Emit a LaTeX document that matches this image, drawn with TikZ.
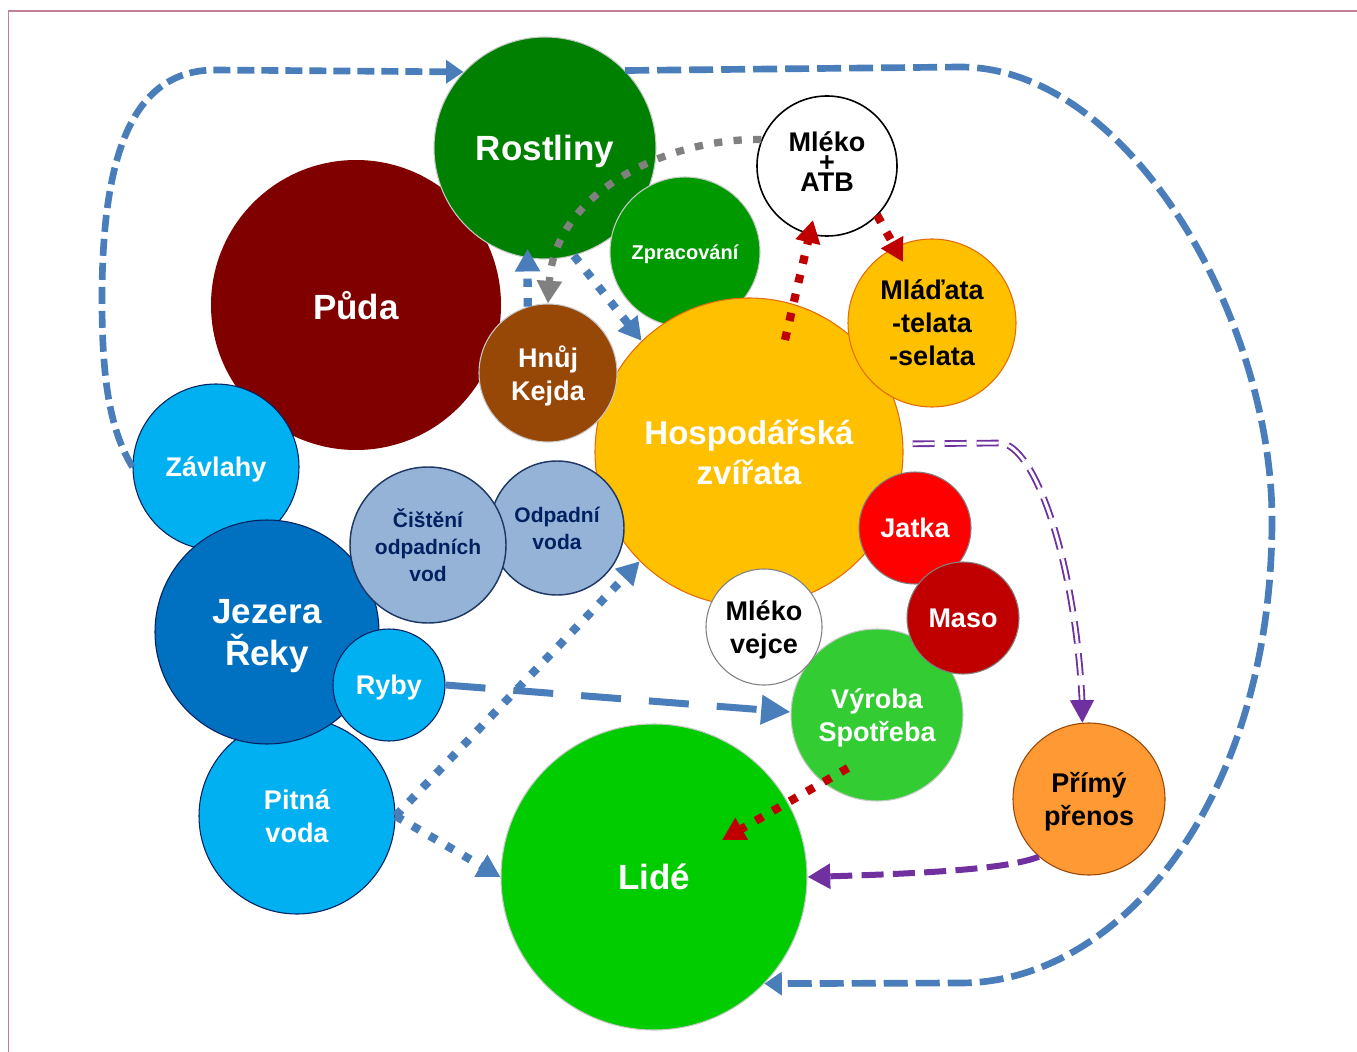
\documentclass[tikz,border=0pt]{standalone}
\usepackage{fontspec}
\setmainfont{Liberation Sans}
\usetikzlibrary{arrows.meta,calc}
\definecolor{frameC}{RGB}{192,128,150}
\definecolor{rostC}{HTML}{008000}
\definecolor{pudaC}{HTML}{800000}
\definecolor{zprC}{HTML}{009900}
\definecolor{hospC}{HTML}{FFC000}
\definecolor{hospL}{HTML}{E46C0A}
\definecolor{hnujC}{HTML}{974806}
\definecolor{zavC}{HTML}{00B0F0}
\definecolor{navyC}{HTML}{002060}
\definecolor{cistC}{HTML}{95B3D7}
\definecolor{cistL}{HTML}{1F3864}
\definecolor{jezC}{HTML}{0070C0}
\definecolor{jatC}{HTML}{FF0000}
\definecolor{masoC}{HTML}{C00000}
\definecolor{vyrC}{HTML}{33CC33}
\definecolor{lideC}{HTML}{00CC00}
\definecolor{primC}{HTML}{FF9933}
\definecolor{primL}{HTML}{984807}
\definecolor{blueA}{HTML}{4A7EBB}
\definecolor{redA}{HTML}{C00000}
\definecolor{grayA}{HTML}{808080}
\definecolor{purA}{HTML}{7030A0}
\definecolor{rimC}{HTML}{C8C8C8}
\begin{document}
\begin{tikzpicture}[x=0.75pt,y=-0.75pt,
  bub/.style={circle, inner sep=0pt, align=center, text=white, line width=0.8pt, text depth=0pt, font=\bfseries\fontsize{20.25}{24.75}\selectfont},
  rad/.style={minimum size=#1*1.5pt},
  fbig/.style={font=\bfseries\fontsize{26.25}{31.5}\selectfont},
  fhosp/.style={font=\bfseries\fontsize{24.75}{30}\selectfont},
  fsmall/.style={font=\bfseries\fontsize{15.75}{20}\selectfont},
  fzp/.style={font=\bfseries\fontsize{15}{18}\selectfont},
  fatb/.style={font=\bfseries\fontsize{20.25}{15}\selectfont},
  loopA/.style={draw=blueA, line width=5pt, dash pattern=on 12.75pt off 5.25pt},
  loopB/.style={draw=blueA, line width=5pt, dash pattern=on 18pt off 6pt},
  longdash/.style={draw=blueA, line width=5.25pt, dash pattern=on 30pt off 21pt},
  dotsq/.style={line width=6.2pt, dash pattern=on 6.2pt off 8.5pt},
  pdash/.style={draw=purA, line width=4.5pt, dash pattern=on 16.5pt off 7pt},
  tipS/.style={-{Triangle[length=13pt,width=17pt]}},
  tipM/.style={-{Triangle[length=17pt,width=18pt]}},
  tipL/.style={-{Triangle[length=22pt,width=21pt]}},
]
\useasboundingbox (0,0) rectangle (1357,1052);
\draw[frameC, line width=1.2pt] (1357,11) -- (8.5,11) -- (8.5,1052);

% circles
\node[bub, rad=145, fill=pudaC, fbig] (Puda) at (356,305) {Půda};
\node[bub, rad=83, fill=zavC, draw=navyC] (Zav) at (216,467) {Závlahy};
\node[bub, rad=98, fill=zavC, draw=navyC] (Pitna) at (297,816) {Pitná\\voda};
\node[bub, rad=112, fill=jezC, draw=navyC, fbig] (Jez) at (267,632) {Jezera\\Řeky};
\node[bub, rad=56, fill=zavC, draw=navyC] (Ryby) at (389,685) {Ryby};
\node[bub, rad=111, fill=rostC, draw=rimC, fbig] (Rost) at (545,148) {Rostliny};
\node[bub, rad=75, fill=zprC, draw=rimC, fzp] (Zpr) at (685,252) {Zpracování};
\node[bub, rad=154, fill=hospC, draw=hospL, fhosp] (Hosp) at (749,452) {Hospodářská\\zvířata};
\node[bub, rad=69, fill=hnujC, draw=rimC] (Hnuj) at (548,373) {Hnůj\\Kejda};
\node[bub, rad=67, fill=cistC, draw=cistL, text=navyC, fsmall, line width=1.1pt] (Odp) at (557,528) {Odpadní\\voda};
\node[bub, rad=78, fill=cistC, draw=cistL, text=navyC, fsmall, line width=1.1pt] (Cist) at (428,545) {Čištění\\odpadních\\vod};
\node[bub, rad=84, fill=hospC, draw=hospL, text=black] (Mlad) at (932,323) {Mláďata\\-telata\\-selata};
\node[bub, rad=70, fill=white, draw=black, text=black, fatb, line width=1.2pt, text depth=6pt] (ATB) at (827,166) {Mléko\\+\\ATB};
\node[bub, rad=86, fill=vyrC, draw=rimC] (Vyr) at (877,715) {Výroba\\Spotřeba};
\node[bub, rad=56, fill=jatC, draw=grayA] (Jatka) at (915,528) {Jatka};
\node[bub, rad=56, fill=masoC, draw=grayA] (Maso) at (963,618) {Maso};
\node[bub, rad=58, fill=white, draw=grayA, text=black] (MV) at (764,627) {Mléko\\vejce};
\node[bub, rad=153, fill=lideC, draw=rimC, fbig] (Lide) at (654,877) {Lidé};
\node[bub, rad=76, fill=primC, draw=primL, text=black] (Primy) at (1089,799) {Přímý\\přenos};

% connectors
\draw[loopA, tipS] (Zav.west) .. controls (110,430) and (102,380) .. (102,300)
   .. controls (102,160) and (130,70) .. (215,70) -- (Rost.137);
\draw[loopB, tipS] (Rost.44) -- (960,67) .. controls (1130,67) and (1272,320) .. (1272,520)
   .. controls (1272,800) and (1120,983) .. (960,983) -- (Lide.-44);

\draw[blueA, dotsq, tipM] (Rost.-75) -- (Hosp.134);
\draw[blueA, dotsq, tipM, shorten >=-7pt] (Hnuj.107) -- (Rost.-99);
\draw[grayA, dotsq, line width=5.5pt, tipM] (ATB.158) .. controls (670,138) and (555,190) .. (Hnuj.north);

\draw[redA, dotsq, tipM] ($(Hosp)+(36,-112)$) -- ($(ATB)+(-14,54)$);
\draw[redA, dotsq, tipM] ($(ATB)+(50,49)$) -- ($(Mlad)+(-29,-61)$);

\draw[blueA, dotsq, tipM] (Pitna.east) -- (Hosp.225);
\draw[blueA, dotsq, tipM] (Pitna.east) -- (Lide.west);
\draw[longdash, tipL] (Ryby.east) -- (Vyr.178);
\draw[redA, dotsq, tipM] ($(Vyr)+(-29,53)$) -- ($(Lide)+(68,-37)$);

\coordinate (pb) at (1082,700);
\draw[draw=purA, line width=1.4pt, double=white, double distance=2.2pt, dash pattern=on 16.5pt off 7.5pt, shorten <=7pt]
   (Hosp.3) -- (1000,443) .. controls (1035,445) and (1075,560) .. (pb);
\draw[purA, line width=1pt, tipM] (pb) -- (Primy.95);
\draw[pdash, tipM] (Primy.229) .. controls (1010,868) and (940,873) .. (Lide.east);
\end{tikzpicture}
\end{document}
